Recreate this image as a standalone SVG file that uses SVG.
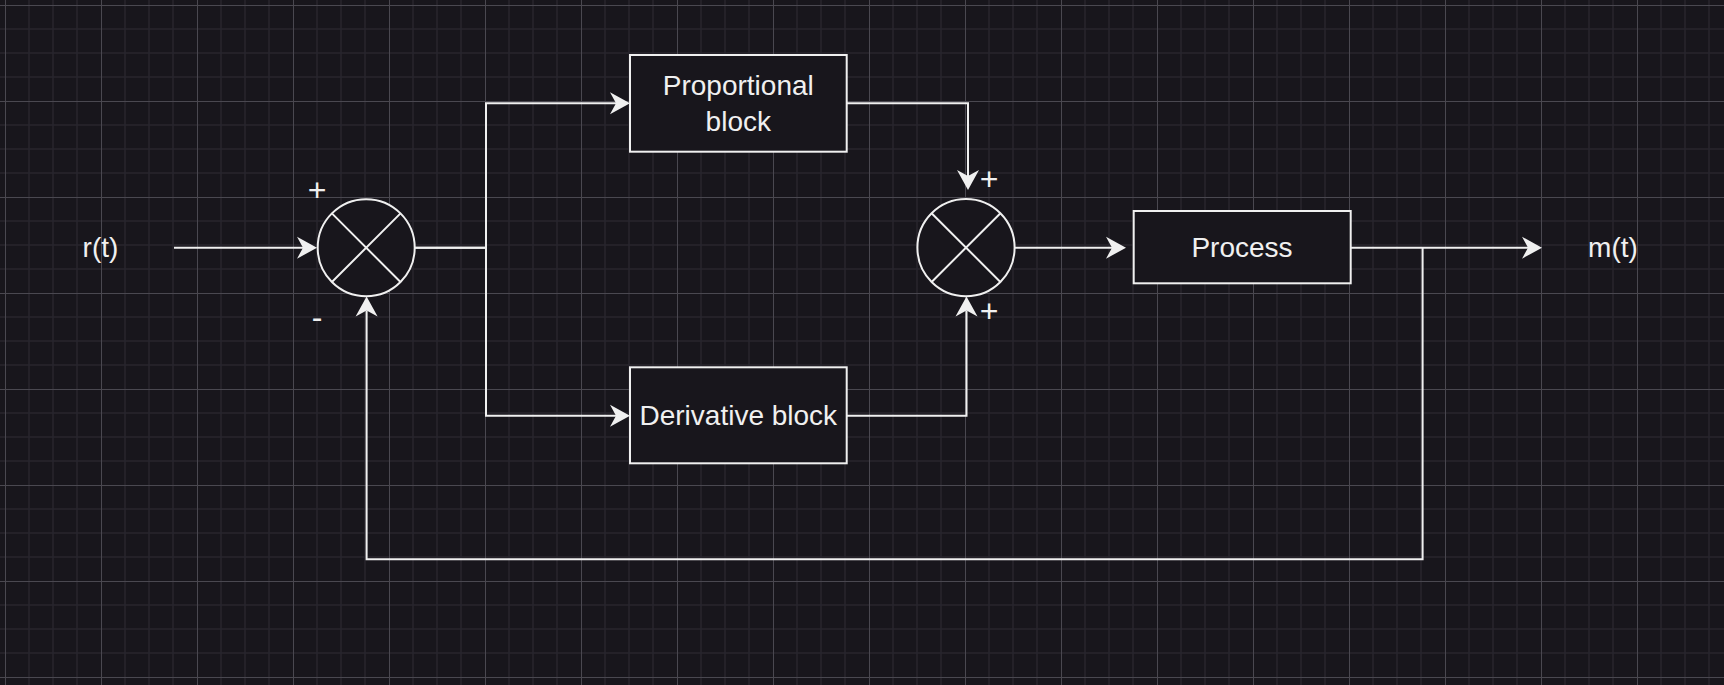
<svg xmlns="http://www.w3.org/2000/svg" width="1724" height="685" viewBox="0 0 1724 685">
  <defs>
    <pattern id="grid" patternUnits="userSpaceOnUse" x="5" y="5" width="96" height="96">
      <path d="M24 0V96M48 0V96M72 0V96M0 24H96M0 48H96M0 72H96" stroke="#27252c" stroke-width="1.5" fill="none"/>
      <path d="M0.5 0V96M0 0.5H96" stroke="#4a4850" stroke-width="1" fill="none"/>
    </pattern>
    <marker id="arrow" markerUnits="userSpaceOnUse" viewBox="-7 -12 22 24" refX="0" refY="0" markerWidth="22" markerHeight="24" orient="auto">
      <path d="M14 0L-6 -11L0 0L-6 11Z" fill="#f0f0f0"/>
    </marker>
    <style>
      .bg { fill: #18161c; }
      .box { fill: #18161c; stroke: #f0f0f0; stroke-width: 2; }
      .x { stroke: #f0f0f0; stroke-width: 2; fill: none; }
      .lbl { fill: #f0f0f0; font-family: "Liberation Sans", Arial, sans-serif; font-size: 28px; text-anchor: middle; }
      .sign { fill: #f0f0f0; font-family: "Liberation Sans", Arial, sans-serif; font-size: 32px; text-anchor: middle; }
      .edge { stroke: #f0f0f0; stroke-width: 2; fill: none; }
      .arr { marker-end: url(#arrow); }
    </style>
  </defs>
  <rect class="bg" x="0" y="0" width="1724" height="685"/>
  <rect x="0" y="0" width="1724" height="685" fill="url(#grid)"/>

  <g id="connectors">
    <path class="edge arr" d="M174 247.7H303"/>
    <path class="edge arr" d="M414.7 247.7H486V103.3H616"/>
    <path class="edge arr" d="M414.7 247.7H486V415.7H616"/>
    <path class="edge arr" d="M846.7 103.3H968V176"/>
    <path class="edge arr" d="M846.7 415.7H966.5V310.5"/>
    <path class="edge arr" d="M1014.7 247.7H1112"/>
    <path class="edge arr" d="M1350.7 247.7H1528"/>
    <path class="edge arr" d="M1422.6 247.7V559.3H366.6V310.5"/>
  </g>

  <g id="r-label">
    <text class="lbl" x="100.5" y="257">r(t)</text>
  </g>

  <g id="sum1">
    <circle class="box" cx="366.2" cy="247.7" r="48.5"/>
    <path class="x" d="M331.9 213.4L400.5 282M400.5 213.4L331.9 282"/>
    <text class="sign" x="317" y="200.5">+</text>
    <text class="sign" x="317" y="328.3">-</text>
  </g>

  <g id="proportional">
    <rect class="box" x="630" y="55" width="216.7" height="96.7"/>
    <text class="lbl" x="738.3" y="95">Proportional</text>
    <text class="lbl" x="738.3" y="130.5">block</text>
  </g>

  <g id="derivative">
    <rect class="box" x="630" y="367.3" width="216.7" height="96"/>
    <text class="lbl" x="738.3" y="424.5">Derivative block</text>
  </g>

  <g id="sum2">
    <circle class="box" cx="966" cy="247.6" r="48.6"/>
    <path class="x" d="M931.6 213.2L1000.4 282M1000.4 213.2L931.6 282"/>
    <text class="sign" x="989" y="189.8">+</text>
    <text class="sign" x="989" y="321.5">+</text>
  </g>

  <g id="process">
    <rect class="box" x="1133.7" y="211" width="217" height="72.3"/>
    <text class="lbl" x="1242" y="257">Process</text>
  </g>

  <g id="m-label">
    <text class="lbl" x="1613" y="257">m(t)</text>
  </g>
</svg>
